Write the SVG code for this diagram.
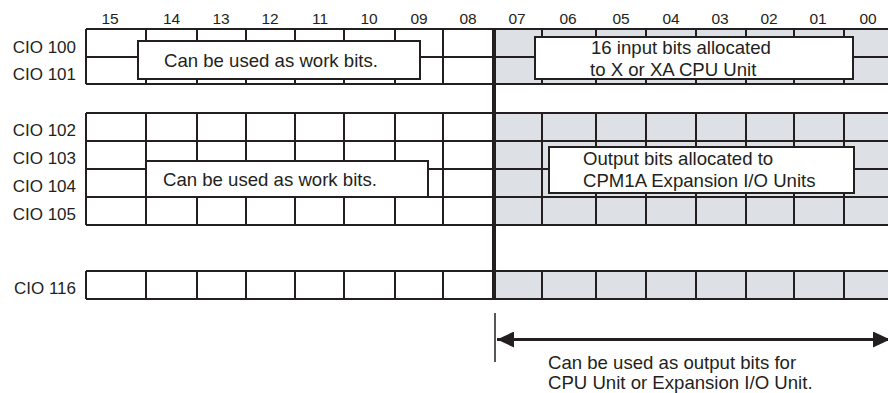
<svg xmlns="http://www.w3.org/2000/svg" width="888" height="393" viewBox="0 0 888 393">
<style>
text{font-family:"Liberation Sans",Arial,sans-serif;fill:#231f20}
.hd{font-size:15.5px;text-anchor:middle}
.cio{font-size:17px;text-anchor:end}
.bx{font-size:18.6px}
.ln{stroke:#231f20;stroke-width:2;fill:none}
.gray{fill:#dde0e4}
.box{fill:#fff;stroke:#231f20;stroke-width:2}
</style>
<defs>
<marker id="ah" viewBox="0 0 17 16" refX="17" refY="8" markerWidth="17" markerHeight="16" markerUnits="userSpaceOnUse" orient="auto-start-reverse">
<path d="M0,0 L17,8 L0,16 Z" fill="#231f20"/>
</marker>
</defs>
<rect width="888" height="393" fill="#fff"/>
<g id="header">
<text class="hd" x="110" y="24">15</text>
<text class="hd" x="171.5" y="24">14</text>
<text class="hd" x="221" y="24">13</text>
<text class="hd" x="270" y="24">12</text>
<text class="hd" x="320" y="24">11</text>
<text class="hd" x="369" y="24">10</text>
<text class="hd" x="419" y="24">09</text>
<text class="hd" x="468" y="24">08</text>
<text class="hd" x="517" y="24">07</text>
<text class="hd" x="568" y="24">06</text>
<text class="hd" x="621" y="24">05</text>
<text class="hd" x="671" y="24">04</text>
<text class="hd" x="720" y="24">03</text>
<text class="hd" x="769" y="24">02</text>
<text class="hd" x="818" y="24">01</text>
<text class="hd" x="868" y="24">00</text>
</g>
<g id="labels">
<text class="cio" x="76" y="53">CIO 100</text>
<text class="cio" x="76" y="80">CIO 101</text>
<text class="cio" x="76" y="136">CIO 102</text>
<text class="cio" x="76" y="164">CIO 103</text>
<text class="cio" x="76" y="192">CIO 104</text>
<text class="cio" x="76" y="220">CIO 105</text>
<text class="cio" x="76" y="294">CIO 116</text>
</g>
<g id="grid">
<rect class="gray" x="494" y="29" width="394" height="55"/>
<rect class="gray" x="494" y="113" width="394" height="112"/>
<rect class="gray" x="494" y="271" width="394" height="28"/>
<path class="ln" d="M86,29H888M86,57H888M86,84H888
M86,29V84M146,29V84M197,29V84M246,29V84M295,29V84M344,29V84M395,29V84M443,29V84M542,29V84M596,29V84M646,29V84M696,29V84M746,29V84M794,29V84M844,29V84"/>
<path class="ln" d="M86,113H888M86,141H888M86,169H888M86,197H888M86,225H888
M86,113V225M146,113V225M197,113V225M246,113V225M295,113V225M344,113V225M395,113V225M443,113V225M542,113V225M596,113V225M646,113V225M696,113V225M746,113V225M794,113V225M844,113V225"/>
<path class="ln" d="M86,271H888M86,299H888
M86,271V299M146,271V299M197,271V299M246,271V299M295,271V299M344,271V299M395,271V299M443,271V299M542,271V299M596,271V299M646,271V299M696,271V299M746,271V299M794,271V299M844,271V299"/>
</g>
<g id="box-work-top">
<rect class="box" x="138" y="41" width="282" height="38"/>
<text class="bx" x="164" y="67">Can be used as work bits.</text>
</g>
<g id="box-input">
<rect class="box" x="535" y="37" width="318" height="42"/>
<text class="bx" x="591" y="54">16 input bits allocated</text>
<text class="bx" x="590" y="76">to X or XA CPU Unit</text>
</g>
<g id="box-work-mid">
<rect class="box" x="146" y="161" width="282" height="36"/>
<text class="bx" x="163" y="186">Can be used as work bits.</text>
</g>
<g id="box-output">
<rect class="box" x="549" y="147" width="305" height="46"/>
<text class="bx" x="583" y="165">Output bits allocated to</text>
<text class="bx" x="583" y="187">CPM1A Expansion I/O Units</text>
</g>
<g id="connectors">
<line x1="494" y1="29" x2="494" y2="299" stroke="#231f20" stroke-width="4"/>
<line x1="495" y1="313" x2="495" y2="362" stroke="#231f20" stroke-width="1.5"/>
<line x1="497" y1="339.5" x2="890" y2="339.5" stroke="#231f20" stroke-width="3" marker-start="url(#ah)" marker-end="url(#ah)"/>
</g>
<g id="note">
<text class="bx" x="548" y="369">Can be used as output bits for</text>
<text class="bx" x="548" y="389">CPU Unit or Expansion I/O Unit.</text>
</g>
</svg>
